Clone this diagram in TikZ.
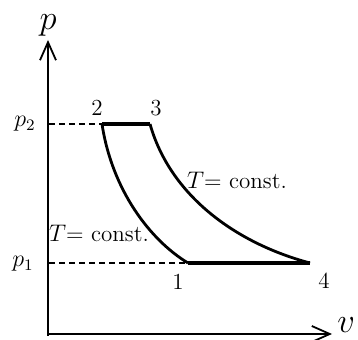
\documentclass[tikz,border=0pt]{standalone}
\usetikzlibrary{arrows.meta}
\begin{document}
\begin{tikzpicture}[x=0.5pt,y=-0.5pt,
  axis/.style={line width=0.9pt,-{Straight Barb[length=9pt,width=8pt,line width=0.9pt]}},
  curve/.style={line width=1.4pt},
  level/.style={line width=1.6pt},
  guide/.style={line width=0.8pt,dash pattern=on 3pt off 2pt},
  lab/.style={font=\fontsize{11.5}{13}\selectfont,inner sep=0pt},
  axlab/.style={font=\fontsize{16}{19}\selectfont,inner sep=0pt}]
\useasboundingbox (0,0) rectangle (358,340);
% axes
\coordinate (O) at (48,334);
\coordinate (ytip) at (48,40);
\coordinate (xtip) at (332,334);
\draw[axis] (48,336) -- (ytip);
\draw[axis] (O) -- (xtip);
\node[axlab] (p) at (48,25) {$p$};
\node[axlab,anchor=west] (v) at (337,325) {$v$};
% state points
\coordinate (s1) at (188,263);
\coordinate (s2) at (102,124);
\coordinate (s3) at (150,124);
\coordinate (s4) at (310,263);
\coordinate (a2) at (49,124);
\coordinate (a1) at (49,263);
% guides
\draw[guide] (a2) -- (s2);
\draw[guide] (a1) -- (s1);
% cycle
\draw[level,line join=round] (s2) -- (s3);
\draw[level,line join=round] (s1) -- (s4);
\draw[curve] (s2) .. controls (112,190) and (150,240) .. (s1);
\draw[curve] (s3) .. controls (170,195) and (235,243) .. (s4);
% labels
\node[lab] (lp2) at (25,124) {$p_2$};
\node[lab] (lp1) at (23,264) {$p_1$};
\node[lab] (l2) at (97,108) {2};
\node[lab] (l3) at (156,108) {3};
\node[lab] (l1) at (178,282) {1};
\node[lab] (l4) at (324,281) {4};
\node[lab] (tl) at (99,233) {$T$= const.};
\node[lab] (tr) at (237,180) {$T$= const.};
\end{tikzpicture}
\end{document}
